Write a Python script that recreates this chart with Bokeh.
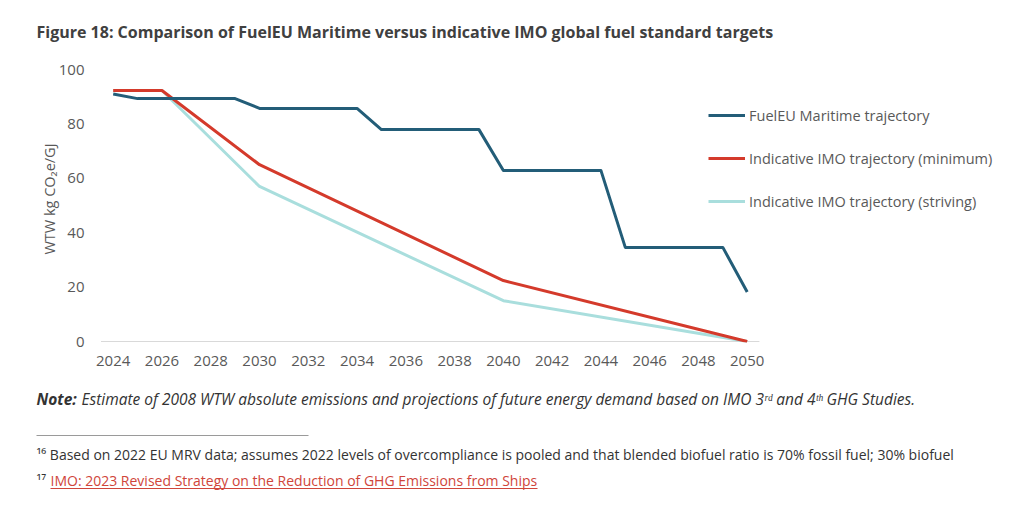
from bokeh.plotting import figure
from bokeh.layouts import column, row
from bokeh.models import (Range1d, FixedTicker, Legend, LegendItem, Label,
                          BoxAnnotation)
from bokeh.embed import file_html
from bokeh.resources import INLINE

# ---------------- data ----------------
fueleu_years = [2024, 2025, 2026, 2027, 2028, 2029, 2030, 2031, 2032, 2033, 2034,
                2035, 2036, 2037, 2038, 2039, 2040, 2041, 2042, 2043, 2044,
                2045, 2046, 2047, 2048, 2049, 2050]
fueleu_vals = [91.0, 89.3, 89.3, 89.3, 89.3, 89.3, 85.7, 85.7, 85.7, 85.7, 85.7,
               77.9, 77.9, 77.9, 77.9, 77.9, 62.9, 62.9, 62.9, 62.9, 62.9,
               34.6, 34.6, 34.6, 34.6, 34.6, 18.2]

imo_years = [2024, 2026, 2030, 2040, 2050]
imo_min_vals = [92.3, 92.3, 65.0, 22.4, 0.0]
imo_striving_vals = [92.3, 92.3, 57.0, 15.0, 0.0]

tick_years = [2024, 2026, 2028, 2030, 2032, 2034, 2036, 2038, 2040, 2042, 2044,
              2046, 2048, 2050]
y_ticks = [0, 20, 40, 60, 80, 100]

series_names = ["FuelEU Maritime trajectory",
                "Indicative IMO trajectory (minimum)",
                "Indicative IMO trajectory (striving)"]
series_colors = ["#235d78", "#d43a2b", "#a9dedd"]

title_text = "Figure 18: Comparison of FuelEU Maritime versus indicative IMO global fuel standard targets"
note_bold = "Note:"
note_text = "Estimate of 2008 WTW absolute emissions and projections of future energy demand based on IMO 3ʳᵈ and 4ᵗʰ GHG Studies."
foot16 = "¹⁶ Based on 2022 EU MRV data; assumes 2022 levels of overcompliance is pooled and that blended biofuel ratio is 70% fossil fuel; 30% biofuel"
foot17_num = "¹⁷"
foot17_text = "IMO: 2023 Revised Strategy on the Reduction of GHG Emissions from Ships"

TXT = "#595959"
DARK = "#333333"
FONT = "Open Sans"
W = 1024

# ---------------- layout geometry (page pixels) ----------------
TOP_H = 55            # title strip
MAIN_H = 318          # main chart (page 55..373)
BOT_H = 514 - TOP_H - MAIN_H
FRAME_LEFT = 100
FRAME_RIGHT = 1015
FRAME_BOTTOM_PAGE = 342
Y0_PAGE = 341          # pixel of y = 0
PX_PER_UNIT = 2.72     # vertical pixels per y unit
X_FIRST_PAGE = 112.7   # pixel of first year
PX_PER_YEAR = 24.385

first_year = min(fueleu_years)
x_start = first_year - (X_FIRST_PAGE - FRAME_LEFT) / PX_PER_YEAR
x_end = first_year + (FRAME_RIGHT - X_FIRST_PAGE) / PX_PER_YEAR
y_start = -(FRAME_BOTTOM_PAGE - Y0_PAGE) / PX_PER_UNIT
y_end = (Y0_PAGE - TOP_H) / PX_PER_UNIT

# ---------------- title strip ----------------
t = figure(width=W, height=TOP_H, output_backend="svg", toolbar_location=None,
           x_range=Range1d(0, W), y_range=Range1d(0, TOP_H),
           min_border=0, x_axis_type=None, y_axis_type=None)
t.outline_line_color = None
t.xgrid.visible = False
t.ygrid.visible = False
t.add_layout(Label(x=36, y=TOP_H - 31, x_units="screen", y_units="screen",
                   text=title_text, text_font=FONT, text_font_size="16px",
                   text_font_style="bold", text_color="#404040",
                   text_baseline="middle"))

# ---------------- main chart ----------------
p = figure(width=W, height=MAIN_H, output_backend="svg", toolbar_location=None,
           x_range=Range1d(x_start, x_end), y_range=Range1d(y_start, y_end),
           min_border_left=FRAME_LEFT, min_border_right=W - FRAME_RIGHT,
           min_border_top=0,
           min_border_bottom=TOP_H + MAIN_H - FRAME_BOTTOM_PAGE)
p.outline_line_color = None
p.xgrid.visible = False
p.ygrid.visible = False

p.xaxis.ticker = FixedTicker(ticks=tick_years)
p.xaxis.axis_line_color = None
p.xaxis.major_tick_line_color = None
p.xaxis.minor_tick_line_color = None
p.xaxis.major_label_text_font = FONT
p.xaxis.major_label_text_font_size = "15px"
p.xaxis.major_label_text_color = TXT
p.xaxis.major_label_standoff = 7

p.yaxis.ticker = FixedTicker(ticks=y_ticks)
p.yaxis.axis_line_color = None
p.yaxis.major_tick_line_color = None
p.yaxis.minor_tick_line_color = None
p.yaxis.major_label_text_font = FONT
p.yaxis.major_label_text_font_size = "15px"
p.yaxis.major_label_text_color = TXT
p.yaxis.major_label_standoff = 10
p.yaxis.axis_label = "WTW kg CO₂e/GJ"
p.yaxis.axis_label_text_font = FONT
p.yaxis.axis_label_text_font_size = "14.5px"
p.yaxis.axis_label_text_font_style = "normal"
p.yaxis.axis_label_text_color = TXT
p.yaxis.axis_label_standoff = -3

# category-axis baseline: spans half a category beyond first and last year
p.segment(x0=[min(fueleu_years) - 0.5], x1=[max(fueleu_years) + 0.5],
          y0=[0], y1=[0], line_color="#d9d9d9", line_width=1)

r_striv = p.line(imo_years, imo_striving_vals, line_color=series_colors[2],
                 line_width=3, line_join="round")
r_min = p.line(imo_years, imo_min_vals, line_color=series_colors[1],
               line_width=3, line_join="round")
r_fuel = p.line(fueleu_years, fueleu_vals, line_color=series_colors[0],
                line_width=3, line_join="round")

legend = Legend(items=[LegendItem(label=series_names[0], renderers=[r_fuel]),
                       LegendItem(label=series_names[1], renderers=[r_min]),
                       LegendItem(label=series_names[2], renderers=[r_striv])],
                location=(608, 131), orientation="vertical",
                glyph_width=37, glyph_height=20, label_height=20,
                label_standoff=4, spacing=23, padding=0, margin=0,
                border_line_color=None, background_fill_alpha=0,
                label_text_font=FONT, label_text_font_size="14.5px",
                label_text_color=TXT)
p.add_layout(legend)

# ---------------- notes strip ----------------
b = figure(width=W, height=BOT_H, output_backend="svg", toolbar_location=None,
           x_range=Range1d(0, W), y_range=Range1d(0, BOT_H),
           min_border=0, x_axis_type=None, y_axis_type=None)
b.outline_line_color = None
b.xgrid.visible = False
b.ygrid.visible = False

def by(page_y):
    return 514 - page_y

b.add_layout(Label(x=36, y=by(398), x_units="screen", y_units="screen",
                   text=note_bold, text_font=FONT, text_font_size="15.5px",
                   text_font_style="bold italic", text_color=DARK,
                   text_baseline="middle"))
b.add_layout(Label(x=81, y=by(398), x_units="screen", y_units="screen",
                   text=note_text, text_font=FONT, text_font_size="15.5px",
                   text_font_style="italic", text_color=DARK,
                   text_baseline="middle"))

b.add_layout(BoxAnnotation(left=36, right=308, bottom=by(435.5), top=by(434.5),
                           left_units="screen", right_units="screen",
                           bottom_units="screen", top_units="screen",
                           fill_color="#9a9a9a", fill_alpha=1, line_color=None))

b.add_layout(Label(x=36, y=by(454), x_units="screen", y_units="screen",
                   text=foot16, text_font=FONT, text_font_size="14px",
                   text_color=DARK, text_baseline="middle"))

b.add_layout(Label(x=36, y=by(480), x_units="screen", y_units="screen",
                   text=foot17_num, text_font=FONT, text_font_size="14px",
                   text_color=DARK, text_baseline="middle"))
b.add_layout(Label(x=50, y=by(480), x_units="screen", y_units="screen",
                   text=foot17_text, text_font=FONT, text_font_size="14px",
                   text_color="#d0453a", text_baseline="middle"))
b.add_layout(BoxAnnotation(left=50, right=537, bottom=by(488.5), top=by(487.5),
                           left_units="screen", right_units="screen",
                           bottom_units="screen", top_units="screen",
                           fill_color="#d0453a", fill_alpha=1, line_color=None))

layout = column(row(t), p, row(b), spacing=0)
open("out.html", "w").write(file_html(layout, INLINE))
